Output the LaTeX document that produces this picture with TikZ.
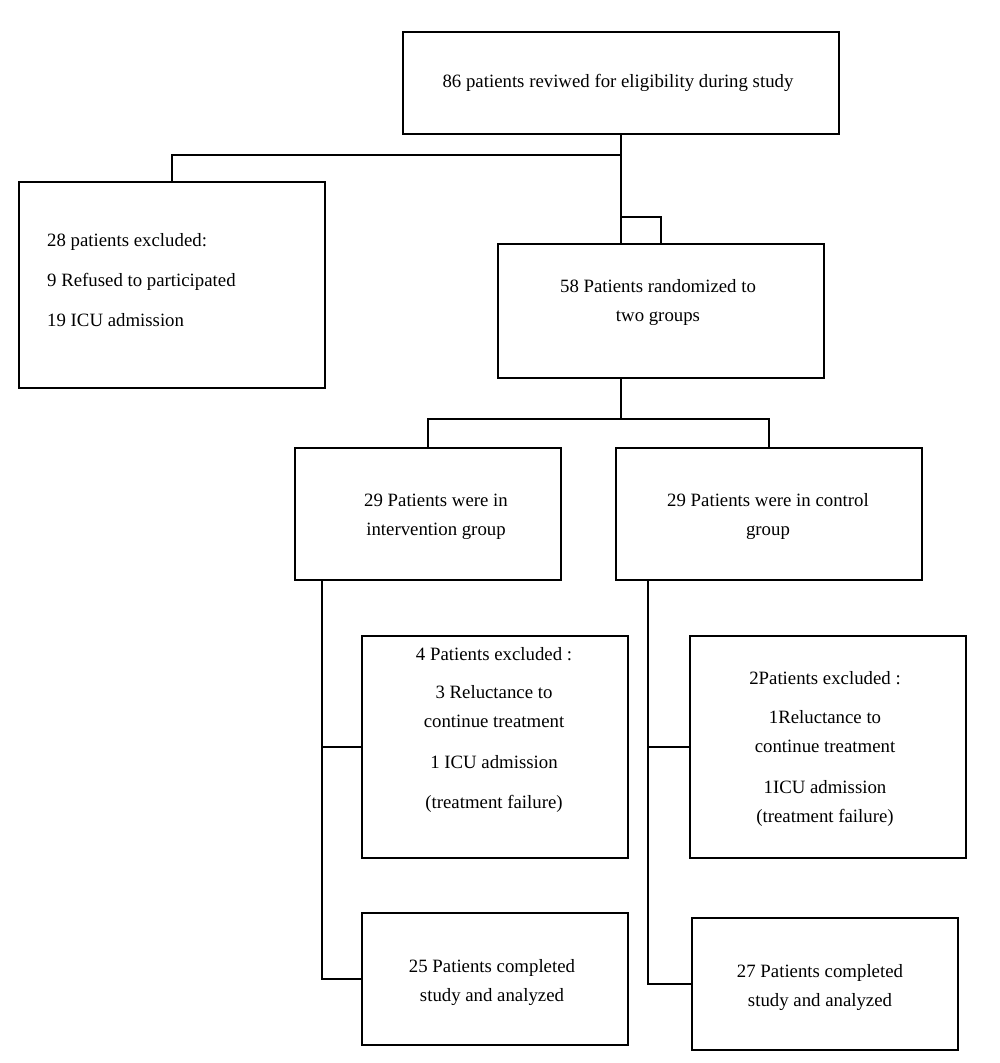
\documentclass[tikz,border=0pt]{standalone}
\usepackage{fontspec}
\setmainfont{Liberation Serif}
\begin{document}
\begin{tikzpicture}[x=1pt,y=-1pt,
  box/.style={draw=black,line width=2pt,inner sep=0pt,outer sep=0pt},
  txt/.style={inner sep=0pt,align=center,font=\fontsize{18.8}{29}\selectfont},
  conn/.style={draw=black,line width=2pt}]
\useasboundingbox (0,0) rectangle (1000,1063);
% boxes
\node[box,minimum width=436pt,minimum height=102pt] (top) at (621,83) {};
\node[box,minimum width=306pt,minimum height=206pt] (excl) at (172,285) {};
\node[box,minimum width=326pt,minimum height=134pt] (rand) at (661,311) {};
\node[box,minimum width=266pt,minimum height=132pt] (int) at (428,514) {};
\node[box,minimum width=306pt,minimum height=132pt] (ctrl) at (769,514) {};
\node[box,minimum width=266pt,minimum height=222pt] (eint) at (495,747) {};
\node[box,minimum width=276pt,minimum height=222pt] (ectl) at (828,747) {};
\node[box,minimum width=266pt,minimum height=132pt] (cint) at (495,979) {};
\node[box,minimum width=266pt,minimum height=132pt] (cctl) at (825,984) {};
% texts
\node[txt] (ttop) at (618,83) {86 patients reviwed for eligibility during study};
\node[txt,align=left,anchor=west] (texcl) at (47,280) {28 patients excluded:\\[11pt]9 Refused to participated\\[11pt]19 ICU admission};
\node[txt] (trand) at (658,302.5) {58 Patients randomized to\\two groups};
\node[txt] (tint) at (436,516.5) {29 Patients were in\\intervention group};
\node[txt] (tctrl) at (768,516.5) {29 Patients were in control\\group};
\node[txt] (teint) at (494,730) {4 Patients excluded :\\[9pt]3 Reluctance to\\continue treatment\\[12pt]1 ICU admission\\[11pt](treatment failure)};
\node[txt] (tectl) at (825,749) {2Patients excluded :\\[10pt]1Reluctance to\\continue treatment\\[12pt]1ICU admission\\(treatment failure)};
\node[txt] (tcint) at (492,982) {25 Patients completed\\study and analyzed};
\node[txt] (tcctl) at (820,987) {27 Patients completed\\study and analyzed};
% junction coordinates
\coordinate (j1) at (621,155);
\coordinate (j2) at (621,217);
\coordinate (j4) at (621,419);
\coordinate (ispine) at (322,580);
\coordinate (cspine) at (648,580);
% connectors
\draw[conn] (top.south) -- (j1) -| (excl.north);
\draw[conn] (j1) -- (rand.north -| top.south);
\draw[conn] (j2) -| (rand.north);
\draw[conn] (rand.south -| top.south) -- (j4);
\draw[conn] (int.north) |- (j4) -| (ctrl.north);
\draw[conn] (ispine) |- (cint.west);
\draw[conn] (eint.west) -- (eint.west -| ispine);
\draw[conn] (cspine) |- (cctl.west);
\draw[conn] (ectl.west) -- (ectl.west -| cspine);
\end{tikzpicture}
\end{document}
